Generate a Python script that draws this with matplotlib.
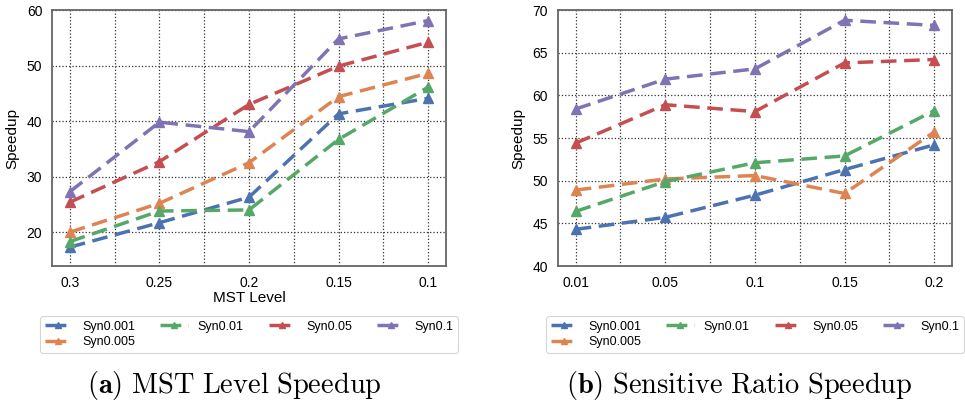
import matplotlib
matplotlib.use("Agg")
import matplotlib.pyplot as plt

# speedup values
labels = ["Syn0.001", "Syn0.005", "Syn0.01", "Syn0.05", "Syn0.1"]
colors = ["#4c72b0", "#dd8452", "#55a868", "#c44e52", "#8172b3"]

mst_levels = ["0.3", "0.25", "0.2", "0.15", "0.1"]
mst_syn0001 = [17.3, 21.7, 26.3, 41.3, 44.1]
mst_syn0005 = [20.0, 25.2, 32.5, 44.4, 48.6]
mst_syn001 = [18.3, 23.8, 24.0, 36.7, 46.1]
mst_syn005 = [25.4, 32.7, 43.0, 49.9, 54.2]
mst_syn01 = [27.3, 39.8, 38.1, 54.8, 58.1]

ratios = ["0.01", "0.05", "0.1", "0.15", "0.2"]
ratio_syn0001 = [44.3, 45.7, 48.3, 51.3, 54.2]
ratio_syn0005 = [48.9, 50.2, 50.6, 48.5, 55.7]
ratio_syn001 = [46.4, 49.9, 52.1, 52.9, 58.2]
ratio_syn005 = [54.4, 58.9, 58.1, 63.8, 64.2]
ratio_syn01 = [58.4, 61.9, 63.1, 68.8, 68.2]

plt.rcParams["font.family"] = ["Liberation Sans", "DejaVu Sans"]
plt.rcParams["mathtext.fontset"] = "cm"

fig = plt.figure(figsize=(9.65, 4.07), dpi=100)
ax1 = fig.add_axes([0.0539, 0.3464, 0.4083, 0.629])
ax2 = fig.add_axes([0.578, 0.3464, 0.4086, 0.629])


def draw(ax, ticks, series, ylim, yticks, leg_x):
    x = list(range(len(ticks)))
    for vals, lab, col in zip(series, labels, colors):
        ax.plot(x, vals, linestyle="--", marker="^", color=col, label=lab,
                linewidth=2.5, markersize=7, dashes=(4.5, 2.2))
    ax.set_xlim(-0.2, 4.2)
    ax.set_ylim(*ylim)
    ax.set_yticks(yticks)
    ax.set_xticks(x)
    ax.set_xticklabels(ticks)
    ax.set_xticks([0.5, 1.5, 2.5, 3.5], minor=True)
    ax.grid(True, which="both", axis="x", linestyle=":", color="#333333", linewidth=0.9)
    ax.grid(True, which="major", axis="y", linestyle=":", color="#333333", linewidth=0.9)
    ax.set_axisbelow(True)
    ax.tick_params(axis="both", which="both", length=0, labelsize=10)
    ax.tick_params(axis="y", pad=7)
    ax.tick_params(axis="x", pad=7)
    for sp in ax.spines.values():
        sp.set_color("#666666")
        sp.set_linewidth(1.3)
    ax.set_ylabel("Speedup", fontsize=11, labelpad=5)
    leg = ax.legend(loc="upper center", bbox_to_anchor=(leg_x, 1 - 310 / 407),
                    bbox_transform=fig.transFigure, ncol=4, fontsize=9,
                    frameon=True, handlelength=2.2, handletextpad=0.8,
                    columnspacing=2.0, borderpad=0.35, labelspacing=0.3,
                    markerscale=0.6)
    for h in leg.get_lines():
        h.set_dashes((6, 2))
    leg.get_frame().set_edgecolor("#cccccc")
    leg.get_frame().set_linewidth(0.8)


draw(ax1, mst_levels, [mst_syn0001, mst_syn0005, mst_syn001, mst_syn005, mst_syn01],
     (13.9, 60), [20, 30, 40, 50, 60], 249 / 965)
ax1.set_xlabel("MST Level", fontsize=11, labelpad=1)

draw(ax2, ratios, [ratio_syn0001, ratio_syn0005, ratio_syn001, ratio_syn005, ratio_syn01],
     (40, 70), [40, 45, 50, 55, 60, 65, 70], 755 / 965)

fig.text(234.5 / 965, 1 - 385 / 407, r"$\mathbf{(a)}\ \mathrm{MST\ Level\ Speedup}$",
         ha="center", va="center", fontsize=20.5)
fig.text(739.5 / 965, 1 - 385 / 407, r"$\mathbf{(b)}\ \mathrm{Sensitive\ Ratio\ Speedup}$",
         ha="center", va="center", fontsize=20.5)

fig.savefig("out.png", dpi=100)
